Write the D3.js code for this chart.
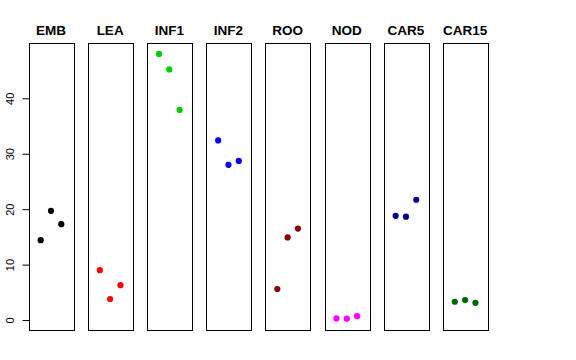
<!DOCTYPE html>
<html><head><meta charset="utf-8">
<script src="https://cdn.jsdelivr.net/npm/d3@7"></script>
<style>body{margin:0;background:#fff}svg{display:block}</style>
</head><body><svg id="c" width="576" height="360"></svg>
<script>
const categories = ["EMB","LEA","INF1","INF2","ROO","NOD","CAR5","CAR15"];
const colors = ["#000000","#FF0000","#00CD00","#0000FF","#8B0000","#FF00FF","#00008B","#006400"];
const EMB = [14.4, 19.7, 17.3];
const LEA = [9.0, 3.8, 6.3];
const INF1 = [48.0, 45.2, 37.9];
const INF2 = [32.4, 28.0, 28.7];
const ROO = [5.6, 14.9, 16.5];
const NOD = [0.3, 0.25, 0.7];
const CAR5 = [18.8, 18.65, 21.7];
const CAR15 = [3.3, 3.6, 3.1];
const series = [EMB, LEA, INF1, INF2, ROO, NOD, CAR5, CAR15];
const yTicks = [0, 10, 20, 30, 40];

const svg = d3.select("#c");
const plotTop = 43.3, plotBottom = 330.7;
const y = d3.scaleLinear().domain([-1.92, 49.92]).range([plotBottom, plotTop]);
const band = d3.scaleBand().domain(categories).range([28.7, 487.4]).paddingInner(0.247).paddingOuter(0);

categories.forEach((cat, i) => {
  const x0 = band(cat), w = band.bandwidth();
  const x = d3.scaleLinear().domain([-0.16, 4.16]).range([x0, x0 + w]);
  const g = svg.append("g");
  g.append("rect").attr("x", Math.round(x0) + 0.5).attr("y", Math.round(plotTop) + 0.5)
    .attr("width", Math.round(w)).attr("height", Math.round(plotBottom - plotTop))
    .attr("fill", "none").attr("stroke", "#000").attr("stroke-width", 1);
  g.selectAll("circle").data(series[i]).join("circle")
    .attr("cx", (d, j) => x(j + 1)).attr("cy", d => y(d)).attr("r", 3.1)
    .attr("fill", colors[i]);
  g.append("text").attr("x", x0 + w / 2).attr("y", 34.5)
    .attr("text-anchor", "middle").attr("font-family", "Liberation Sans, Arial, sans-serif")
    .attr("font-weight", "bold").attr("font-size", "13.5px").text(cat);
});

const ax = svg.append("g").attr("transform", `translate(${Math.round(band(categories[0])) + 0.5},0)`)
  .call(d3.axisLeft(y).tickValues(yTicks).tickSize(7).tickPadding(4).tickFormat(d3.format("d")));
ax.select(".domain").remove();
ax.append("line").attr("x1", 0).attr("x2", 0).attr("y1", y(0)).attr("y2", y(40)).attr("stroke", "#000");
ax.selectAll(".tick line").attr("stroke", "#000");
ax.selectAll(".tick text").attr("font-family", "Liberation Sans, Arial, sans-serif")
  .attr("font-size", "11px").attr("fill", "#000")
  .attr("text-anchor", "middle").attr("x", null).attr("dy", null)
  .attr("transform", "translate(-18,0) rotate(-90)").attr("dominant-baseline", "middle");
</script></body></html>
